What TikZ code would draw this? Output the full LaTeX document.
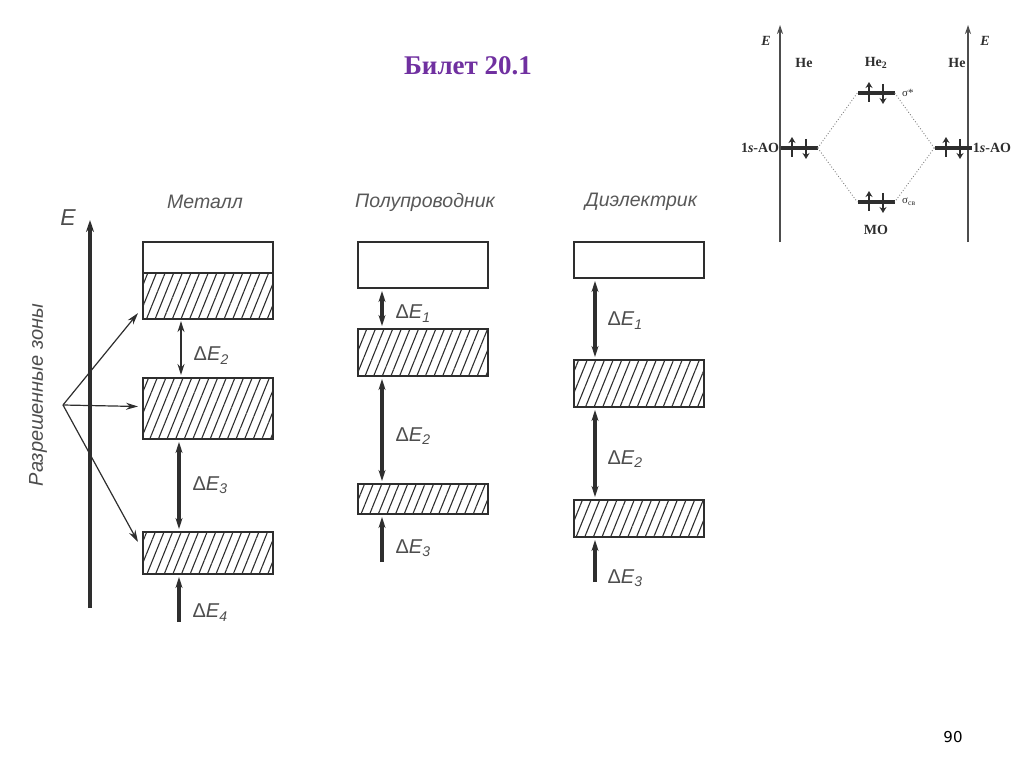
\documentclass[tikz,border=0pt]{standalone}
\usepackage{fontspec}
\setmainfont{Liberation Serif}
\setsansfont{Liberation Sans}
\newfontfamily\numfont{DejaVu Sans}
\usepackage{tikz}
\usetikzlibrary{arrows.meta,positioning,calc,patterns.meta}
\usepackage{xcolor}
\definecolor{ink}{HTML}{2E2E2E}
\definecolor{ticket}{HTML}{7030A0}
\newcommand\dEn[1]{Δ\textit{E}\textsubscript{\textit{#1}}}

\begin{document}
\begin{tikzpicture}[
  x=1pt, y=-1pt, line width=0.4pt,
  band/.style={draw=ink, line width=2pt, anchor=north west, inner sep=0pt,
               minimum width=130pt},
  hband/.style={band, pattern={Lines[angle=68, distance=8pt, line width=1.1pt]},
                pattern color=ink},
  gap/.style={{Stealth[length=11pt, width=7pt]}-{Stealth[length=11pt, width=7pt]},
              line width=3.2pt, draw=ink, shorten <=2pt, shorten >=2pt},
  thingap/.style={gap, line width=1.4pt},
  inarr/.style={-{Stealth[length=11pt, width=7pt]}, line width=3.2pt, draw=ink,
                shorten >=2pt},
  ptr/.style={-{Stealth[length=12pt, width=7pt]}, line width=1.2pt, draw=ink},
  axis/.style={-{Stealth[length=12pt, width=8pt]}, line width=3.5pt, draw=ink},
  glabel/.style={font=\sffamily\fontsize{20}{20}\selectfont, text=ink!85,
                 anchor=west, inner sep=0pt},
  coltitle/.style={font=\sffamily\itshape\fontsize{19.5}{20}\selectfont, text=ink!80},
  % MO diagram
  moaxis/.style={-{Stealth[length=9pt, width=6pt]}, line width=1.4pt, draw=ink!85},
  level/.style={fill=ink, minimum width=37pt, minimum height=3.2pt, inner sep=0pt},
  spin/.style={-{Stealth[length=6pt, width=7pt]}, line width=1.7pt, draw=ink},
  corr/.style={dotted, line width=0.9pt, draw=gray},
  molabel/.style={font=\bfseries\fontsize{14}{14}\selectfont, text=ink},
  sublabel/.style={font=\fontsize{11}{11}\selectfont, text=ink, anchor=west}
]
  \useasboundingbox (0,0) rectangle (1024,767);

  \node[font=\bfseries\fontsize{27}{27}\selectfont, text=ticket] (title) at (468,66)
       {Билет 20.1};
  \node[font=\numfont\fontsize{15}{15}\selectfont, text=black] (pageno) at (953,737) {90};

  % Energy axis
  \coordinate (ebot) at (90,608);
  \coordinate (etop) at (90,220);
  \draw[axis] (ebot) -- (etop);
  \node[font=\sffamily\itshape\fontsize{23}{23}\selectfont, text=ink!85] (elab)
       at (68,218) {E};
  \node[font=\sffamily\itshape\fontsize{20}{20}\selectfont, text=ink!85, rotate=90]
       (zones) at (38,395) {Разрешенные зоны};

  % Column titles
  \node[coltitle] (tmet)  at (205,202) {Металл};
  \node[coltitle] (tsemi) at (425,202) {Полупроводник};
  \node[coltitle] (tdiel) at (641,202) {Диэлектрик};

  % Metal bands
  \node[band, minimum height=31pt] (m0) at (142,241) {};
  \node[hband, minimum height=46pt] (m1) at (142,272) {};
  \node[hband, minimum height=61pt] (m2) at (142,377) {};
  \node[hband, minimum height=42pt] (m3) at (142,531) {};

  % Semiconductor bands
  \node[band, minimum height=46pt] (s1) at (357,241) {};
  \node[hband, minimum height=47pt] (s2) at (357,328) {};
  \node[hband, minimum height=30pt] (s3) at (357,483) {};

  % Dielectric bands
  \node[band, minimum height=36pt] (d1) at (573,241) {};
  \node[hband, minimum height=47pt] (d2) at (573,359) {};
  \node[hband, minimum height=37pt] (d3) at (573,499) {};

  % Pointers to allowed bands
  \coordinate (src) at (63,405);
  \draw[ptr] (src) -- ([xshift=-4pt, yshift=6pt]m1.south west);
  \draw[ptr] (src) -- ([xshift=-4pt, yshift=2pt]m2.west);
  \draw[ptr] (src) -- ([xshift=-4pt, yshift=-11pt]m3.north west);

  % Gaps: metal
  \draw[thingap] ([xshift=39pt]m1.south west) -- ([xshift=39pt]m2.north west)
        node[glabel, pos=0.63, right=12pt] {\dEn{2}};
  \draw[gap] ([xshift=37pt]m2.south west) -- ([xshift=37pt]m3.north west)
        node[glabel, pos=0.5, right=12pt] {\dEn{3}};
  \coordinate (m4) at (179,622);
  \draw[inarr] (m4) -- ([xshift=37pt]m3.south west)
        node[glabel, pos=0.2, right=12pt] {\dEn{4}};

  % Gaps: semiconductor
  \draw[gap] ([xshift=25pt]s1.south west) -- ([xshift=25pt]s2.north west)
        node[glabel, pos=0.63, right=12pt] {\dEn{1}};
  \draw[gap] ([xshift=25pt]s2.south west) -- ([xshift=25pt]s3.north west)
        node[glabel, pos=0.56, right=12pt] {\dEn{2}};
  \coordinate (s4) at (382,562);
  \draw[inarr] (s4) -- ([xshift=25pt]s3.south west)
        node[glabel, pos=0.29, right=12pt] {\dEn{3}};

  % Gaps: dielectric
  \draw[gap] ([xshift=22pt]d1.south west) -- ([xshift=22pt]d2.north west)
        node[glabel, pos=0.52, right=11pt] {\dEn{1}};
  \draw[gap] ([xshift=22pt]d2.south west) -- ([xshift=22pt]d3.north west)
        node[glabel, pos=0.56, right=11pt] {\dEn{2}};
  \coordinate (d4) at (595,582);
  \draw[inarr] (d4) -- ([xshift=22pt]d3.south west)
        node[glabel, pos=0.09, right=11pt] {\dEn{3}};

  % MO diagram of He2
  \coordinate (ylb) at (780,242);
  \coordinate (ylt) at (780,25);
  \coordinate (yrb) at (968,242);
  \coordinate (yrt) at (968,25);
  \draw[moaxis] (ylb) -- (ylt);
  \draw[moaxis] (yrb) -- (yrt);
  \node[molabel, font=\bfseries\itshape\fontsize{14}{14}\selectfont] (eL) at (766,41) {E};
  \node[molabel, font=\bfseries\itshape\fontsize{14}{14}\selectfont] (eR) at (985,41) {E};
  \node[molabel] (heL) at (804,63) {He};
  \node[molabel] (heM) at (876,63) {He\textsubscript{2}};
  \node[molabel] (heR) at (957,63) {He};

  \node[level] (aoL) at (799,148) {};
  \node[level] (aoR) at (953,148) {};
  \node[level] (sa)  at (876,93) {};
  \node[level] (sb)  at (876,202) {};

  \draw[corr] (aoL.east) -- (sa.west);
  \draw[corr] (aoL.east) -- (sb.west);
  \draw[corr] (aoR.west) -- (sa.east);
  \draw[corr] (aoR.west) -- (sb.east);

  \foreach \lv in {aoL,aoR,sa,sb}{
    \draw[spin] ([xshift=-7pt, yshift=-9pt]\lv.center) -- ([xshift=-7pt, yshift=11pt]\lv.center);
    \draw[spin] ([xshift=7pt, yshift=9pt]\lv.center) -- ([xshift=7pt, yshift=-11pt]\lv.center);
  }

  \node[molabel, anchor=east, inner sep=1pt] (aolabL) at (aoL.west) {1\textit{s}-AO};
  \node[molabel, anchor=west, inner sep=1pt] (aolabR) at (aoR.east) {1\textit{s}-AO};
  \node[sublabel] (salab) at ([xshift=4pt]sa.east) {σ*};
  \node[sublabel] (sblab) at ([xshift=4pt]sb.east) {σ\textsubscript{св}};
  \node[molabel] (molab) at (876,230) {MO};
\end{tikzpicture}
\end{document}
